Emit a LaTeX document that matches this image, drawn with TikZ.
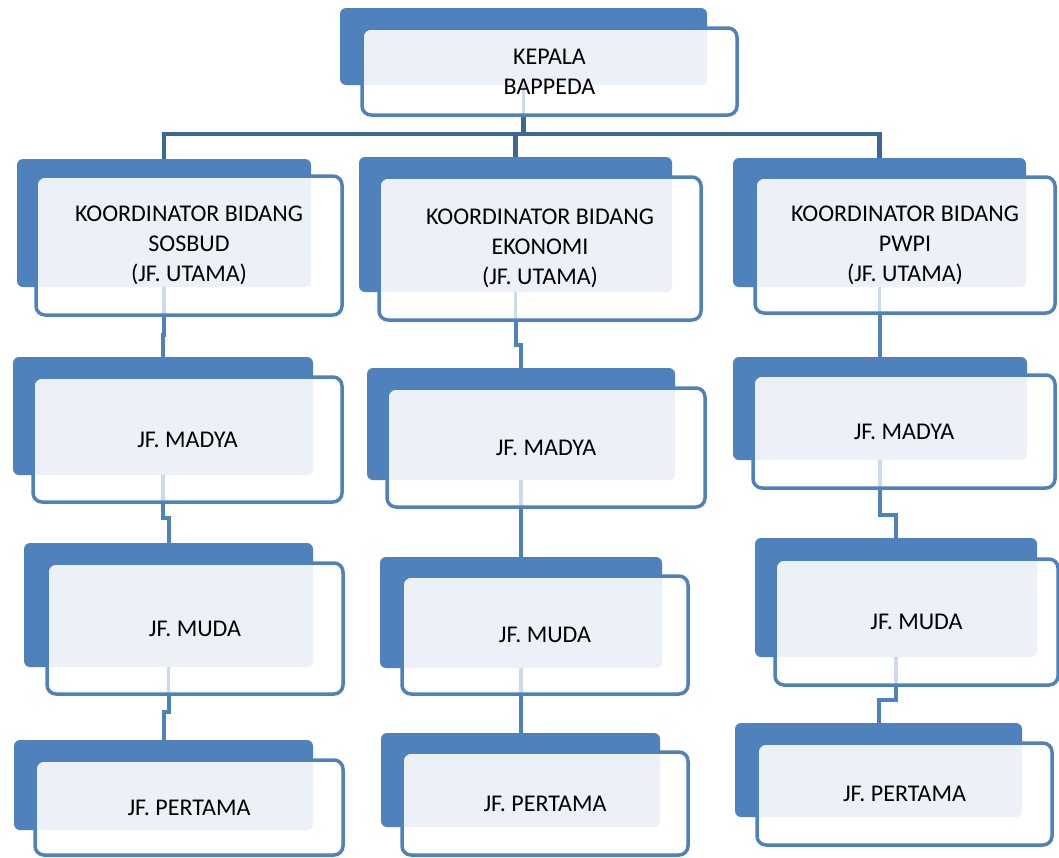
\documentclass[tikz,border=0pt]{standalone}
\usepackage{fontspec}
\setmainfont{Carlito}

\pgfdeclarelayer{background}
\pgfsetlayers{background,main}

\definecolor{boxblue}{HTML}{4F81BD}
\definecolor{busblue}{HTML}{3C6898}
\definecolor{tint}{HTML}{ECF1F8}
\definecolor{ghost}{HTML}{CCDAEC}

\tikzset{
  tab/.style={fill=boxblue, rounded corners=6pt, inner sep=0pt, outer sep=0pt},
  leaf/.style={draw=boxblue, line width=3.5pt, fill=white, rounded corners=9pt,
    inner sep=0pt, outer sep=0pt, align=center, font=\fontsize{24}{30}\selectfont,
    path picture={
      \fill[tint, rounded corners=6pt] (#1-b.north west) rectangle (#1-b.south east);}},
  card/.style={leaf=#1,
    path picture={
      \fill[tint, rounded corners=6pt] (#1-b.north west) rectangle (#1-b.south east);
      \draw[ghost, line width=3.5pt] (#1-b.south) -- ++(0pt,-80pt);}},
  link/.style={draw=boxblue, line width=4pt},
  bus/.style={draw=busblue, line width=4.5pt}
}

\begin{document}
\begin{tikzpicture}[x=1pt,y=-1pt]
      \useasboundingbox (0,0) rectangle (1059,857);

      % kepala
      \node[tab, minimum width=367pt, minimum height=77pt] (kepala-b) at (523.5,46.5) {};
      \node[card=kepala, minimum width=375pt, minimum height=87pt] (kepala) at (549.5,71.5) {KEPALA\\BAPPEDA};

      % koordinator
      \node[tab, minimum width=294pt, minimum height=128pt] (sosbud-b) at (164,223) {};
      \node[card=sosbud, minimum width=306pt, minimum height=139pt] (sosbud) at (189,245.5) {KOORDINATOR BIDANG\\SOSBUD\\(JF. UTAMA)};
      \node[tab, minimum width=313pt, minimum height=135pt] (ekonomi-b) at (515.5,224.5) {};
      \node[card=ekonomi, minimum width=322pt, minimum height=143pt] (ekonomi) at (540,248.5) {KOORDINATOR BIDANG\\EKONOMI\\(JF. UTAMA)};
      \node[tab, minimum width=293pt, minimum height=129pt] (pwpi-b) at (879.5,222.5) {};
      \node[card=pwpi, minimum width=300pt, minimum height=136pt] (pwpi) at (905,245) {KOORDINATOR BIDANG\\PWPI\\(JF. UTAMA)};

      % madya
      \node[tab, minimum width=300pt, minimum height=118pt] (madyaA-b) at (163,416) {};
      \node[card=madyaA, minimum width=309pt, minimum height=125pt] (madyaA) at (187.5,439.5) {JF. MADYA};
      \node[tab, minimum width=308pt, minimum height=112pt] (madyaB-b) at (521,424) {};
      \node[card=madyaB, minimum width=318pt, minimum height=119pt] (madyaB) at (546,447.5) {JF. MADYA};
      \node[tab, minimum width=294pt, minimum height=103pt] (madyaC-b) at (880,408.5) {};
      \node[card=madyaC, minimum width=302pt, minimum height=113pt] (madyaC) at (904,431.5) {JF. MADYA};

      % muda
      \node[tab, minimum width=289pt, minimum height=124pt] (mudaA-b) at (168.5,605) {};
      \node[card=mudaA, minimum width=296pt, minimum height=131pt] (mudaA) at (195,628.5) {JF. MUDA};
      \node[tab, minimum width=282pt, minimum height=111pt] (mudaB-b) at (521,612.5) {};
      \node[card=mudaB, minimum width=286pt, minimum height=118pt] (mudaB) at (545,635) {JF. MUDA};
      \node[tab, minimum width=282pt, minimum height=119pt] (mudaC-b) at (896,597.5) {};
      \node[card=mudaC, minimum width=283pt, minimum height=126pt] (mudaC) at (916.5,622) {JF. MUDA};

      % pertama
      \node[tab, minimum width=299pt, minimum height=90pt] (pertamaA-b) at (163.5,785) {};
      \node[leaf=pertamaA, minimum width=308pt, minimum height=95pt] (pertamaA) at (189,807.5) {JF. PERTAMA};
      \node[tab, minimum width=279pt, minimum height=94pt] (pertamaB-b) at (520.5,780) {};
      \node[leaf=pertamaB, minimum width=286pt, minimum height=103pt] (pertamaB) at (545,803.5) {JF. PERTAMA};
      \node[tab, minimum width=287pt, minimum height=94pt] (pertamaC-b) at (878.5,770) {};
      \node[leaf=pertamaC, minimum width=295pt, minimum height=102pt] (pertamaC) at (904.5,794) {JF. PERTAMA};

      \begin{pgfonlayer}{background}
      \path[bus] (kepala-b.south) |- (ekonomi-b.north |- 0,134) -- (ekonomi-b.north);
      \path[bus] (sosbud-b.north) |- (pwpi-b.north |- 0,134) -- (pwpi-b.north);
      \path[link]
      (sosbud-b.south) -- (sosbud-b.south |- 0,335) -| (madyaA-b.north)
      (madyaA-b.south) -- (madyaA-b.south |- 0,518) -| (mudaA-b.north)
      (mudaA-b.south) -- (mudaA-b.south |- 0,712) -| (pertamaA-b.north)
      (ekonomi-b.south) -- (ekonomi-b.south |- 0,345) -| (madyaB-b.north)
      (madyaB-b.south) -- (madyaB-b.south |- 0,530) -| (mudaB-b.north)
      (mudaB-b.south) -- (mudaB-b.south |- 0,713) -| (pertamaB-b.north)
      (pwpi-b.south) -- (pwpi-b.south |- 0,330) -| (madyaC-b.north)
      (madyaC-b.south) -- (madyaC-b.south |- 0,515) -| (mudaC-b.north)
      (mudaC-b.south) -- (mudaC-b.south |- 0,700) -| (pertamaC-b.north);
      \end{pgfonlayer}
\end{tikzpicture}
\end{document}
